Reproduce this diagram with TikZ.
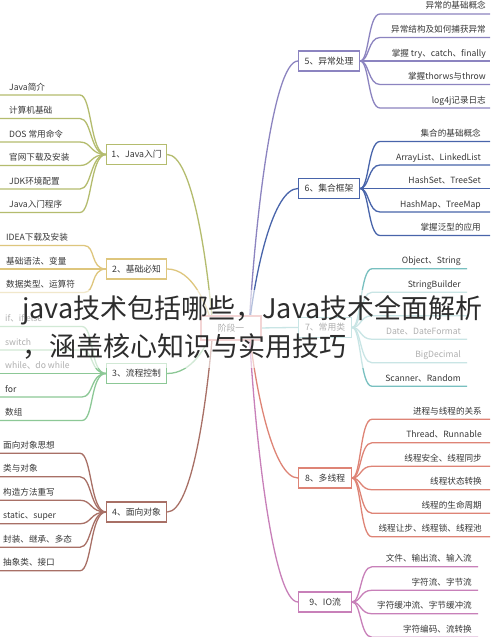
\documentclass[tikz,border=0pt]{standalone}
\usepackage{fontspec}
\setmainfont{Noto Sans CJK SC}
\usetikzlibrary{calc}
\definecolor{txt}{RGB}{55,55,55}
\definecolor{ca}{RGB}{180,188,110}
\definecolor{cb}{RGB}{222,198,125}
\definecolor{cc}{RGB}{140,200,150}
\definecolor{cd}{RGB}{168,112,102}
\definecolor{ce}{RGB}{140,132,192}
\definecolor{cf}{RGB}{72,100,170}
\definecolor{cg}{RGB}{120,192,192}
\definecolor{ch}{RGB}{222,132,118}
\definecolor{ci}{RGB}{200,128,185}
\definecolor{cz}{RGB}{225,150,150}
\definecolor{wmk}{RGB}{45,45,45}
\pgfdeclarelayer{bg}\pgfsetlayers{bg,main}
\tikzset{
  mbox/.style={draw=#1, fill=white, line width=1.2pt, minimum height=20pt, inner sep=0pt,
    font=\fontsize{8.8}{9}\selectfont, text=txt, anchor=west},
  leafL/.style={anchor=base west, font=\fontsize{8.6}{9}\selectfont, text=txt, inner sep=0pt},
  leafR/.style={anchor=base east, font=\fontsize{8.6}{9}\selectfont, text=txt, inner sep=0pt},
  leafline/.style={draw=#1, line width=1.3pt},
  br/.style={draw=#1, line width=1.3pt},
  wm/.style={anchor=base west, font=\fontsize{27}{27}\selectfont, text=wmk, inner sep=0pt},
}
\newcommand\LGroup[7]{%
  \foreach \t [count=\i] in {#7} {
    \pgfmathsetmacro\yy{#4+(\i-1)*23.5}
    \coordinate (#1s\i) at (0,\yy);
    \coordinate (#1e\i) at (#6,\yy);
    \node[leafL] (#1t\i) at (#5,\yy-5) {\t};
    \begin{pgfonlayer}{bg}
    \draw[leafline=#3] (#1s\i) -- (#1e\i) .. controls +(12,0) and +(-16,0) .. (#2.west);
    \end{pgfonlayer}
  }}
\newcommand\RGroup[8]{%
  \foreach \t [count=\i] in {#8} {
    \pgfmathsetmacro\yy{#4+(\i-1)*23.5}
    \coordinate (#1s\i) at (#5+21,\yy);
    \coordinate (#1e\i) at (#7,\yy);
    \node[leafR] (#1t\i) at (#6,\yy-5) {\t};
    \begin{pgfonlayer}{bg}
    \draw[leafline=#3] (#2.east) .. controls +(9,0) and +(-12,0) .. (#1s\i) -- (#1e\i);
    \end{pgfonlayer}
  }}
\begin{document}
\begin{tikzpicture}[x=1pt,y=-1pt]
\useasboundingbox (0,0) rectangle (490,637);

% centre
\node[mbox=cz, minimum width=60pt, minimum height=24pt, anchor=center] (c) at (231,328) {阶段一};
\coordinate (cL) at (213,328);
\coordinate (cR) at (249,328);

% main topics
\node[mbox=ca, minimum width=60pt] (n1) at (106,154.5) {1、Java入门};
\node[mbox=cb, minimum width=60pt] (n2) at (106,269) {2、基础必知};
\node[mbox=cc, minimum width=60pt] (n3) at (106,373.5) {3、流程控制};
\node[mbox=cd, minimum width=60pt] (n4) at (106,512) {4、面向对象};
\node[mbox=ce, minimum width=61pt] (n5) at (298,61) {5、异常处理};
\node[mbox=cf, minimum width=61pt] (n6) at (298,188.5) {6、集合框架};
\node[mbox=cg, minimum width=53pt] (n7) at (298,327.5) {7、常用类};
\node[mbox=ch, minimum width=53pt] (n8) at (298,478) {8、多线程};
\node[mbox=ci, minimum width=53pt] (n9) at (298,602) {9、IO流};

\begin{pgfonlayer}{bg}
\fill[white] (0,0) rectangle (490,637);
\draw[br=ca] (n1.east) .. controls +(25,0) and (207,258.6) .. (cL);
\draw[br=cb] (n2.east) .. controls +(25,0) and (207,304.4) .. (cL);
\draw[br=cc] (n3.east) .. controls +(25,0) and (207,346.2) .. (cL);
\draw[br=cd] (n4.east) .. controls +(25,0) and (207,401.6) .. (cL);
\draw[br=ce] (cR) .. controls (255,221.2) and +(-25,0) .. (n5.west);
\draw[br=cf] (cR) .. controls (255,272.2) and +(-25,0) .. (n6.west);
\draw[br=cg] (cR) .. controls (270,328) and +(-15,0) .. (n7.west);
\draw[br=ch] (cR) .. controls (255,388) and +(-25,0) .. (n8.west);
\draw[br=ci] (cR) .. controls (255,437.6) and +(-25,0) .. (n9.west);
\end{pgfonlayer}

% leaves
\LGroup{a}{n1}{ca}{95}{9}{80}{Java简介,计算机基础,DOS 常用命令,官网下载及安装,JDK环境配置,Java入门程序}
\LGroup{b}{n2}{cb}{245.5}{6}{84}{IDEA下载及安装,基础语法、变量,数据类型、运算符}
\LGroup{d}{n3}{cc}{326.5}{5}{82}{if、if else,switch,while、do while,for,数组}
\LGroup{f}{n4}{cd}{453.25}{3}{80}{面向对象思想,类与对象,构造方法重写,static、super,封装、继承、多态,抽象类、接口}
\RGroup{e}{n5}{ce}{14}{359}{486}{490}{异常的基础概念,异常结构及如何捕获异常,掌握 try、catch、finally,掌握thorws与throw,log4j记录日志}
\RGroup{g}{n6}{cf}{141.5}{359}{481}{490}{集合的基础概念,ArrayList、LinkedList,HashSet、TreeSet,HashMap、TreeMap,掌握泛型的应用}
\RGroup{h}{n7}{cg}{268.75}{351}{461}{467}{Object、String,StringBuilder,{},Date、DateFormat,BigDecimal,Scanner、Random}
\RGroup{k}{n8}{ch}{419.25}{351}{482}{490}{进程与线程的关系,Thread、Runnable,线程安全、线程同步,线程状态转换,线程的生命周期,线程让步、线程锁、线程池}
\RGroup{m}{n9}{ci}{566.75}{351}{472}{478}{文件、输出流、输入流,字符流、字节流,字符缓冲流、字节缓冲流,字符编码、流转换}

% overlay
\fill[white, opacity=0.6] (0,290) rectangle (490,368);
\node[wm] (w1) at (22,318) {java技术包括哪些，Java技术全面解析};
\node[wm] (w2) at (22,356) {，涵盖核心知识与实用技巧};
\end{tikzpicture}
\end{document}
